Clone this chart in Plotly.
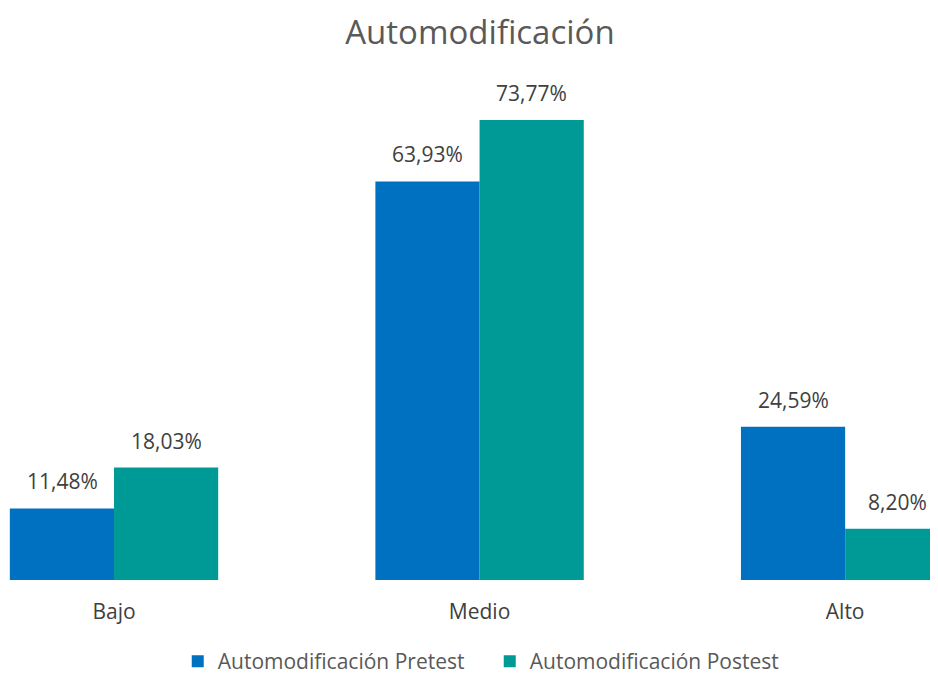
import plotly.graph_objects as go

categories = ["Bajo", "Medio", "Alto"]
pretest = [11.48, 63.93, 24.59]
postest = [18.03, 73.77, 8.20]

series = [
    ("Automodificación Pretest", pretest, "#0070C0", -52),
    ("Automodificación Postest", postest, "#009A96", 52),
]

fig = go.Figure()
for name, vals, col, _ in series:
    fig.add_trace(go.Bar(x=categories, y=vals, name=name, marker=dict(color=col, line_width=0)))

for name, vals, col, dx in series:
    for c, v in zip(categories, vals):
        fig.add_annotation(x=c, y=v, text=f"{v:.2f}%".replace(".", ","), showarrow=False,
                           xshift=dx, yshift=11, yanchor="bottom",
                           font=dict(size=21, color="#404040"))

fig.update_layout(
    title=dict(text="Automodificación", x=0.5075, xanchor="center", y=0.963, yanchor="middle",
               font=dict(size=33, color="#595959")),
    font=dict(family="Open Sans, Noto Sans, sans-serif", color="#595959"),
    barmode="group", bargap=0.43, bargroupgap=0,
    plot_bgcolor="white", paper_bgcolor="white",
    width=930, height=674,
    margin=dict(l=0, r=0, t=60, b=94),
    legend=dict(orientation="h", x=0.518, xanchor="center", y=-0.16, yanchor="middle",
                entrywidth=267,
                font=dict(size=21, color="#595959"), traceorder="normal"),
    showlegend=True,
)
fig.update_xaxes(range=[-0.290, 2.254], showline=False, showgrid=False,
                 ticks="outside", ticklen=13, tickcolor="rgba(0,0,0,0)",
                 tickfont=dict(size=21, color="#404040"))
fig.update_yaxes(range=[0, 82.12], visible=False)

fig.write_html("out.html")
